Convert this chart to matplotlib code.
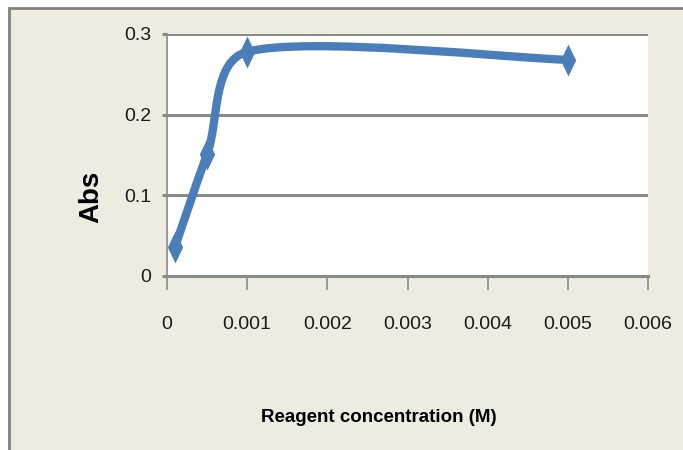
import matplotlib
matplotlib.use("Agg")
import matplotlib.pyplot as plt
import numpy as np
from matplotlib.path import Path
from matplotlib.patches import PathPatch, Rectangle

conc = [0.0001, 0.0005, 0.001, 0.005]
absorb = [0.036, 0.151, 0.278, 0.268]

x_ticks = [0, 0.001, 0.002, 0.003, 0.004, 0.005, 0.006]
x_tick_labels = ["0", "0.001", "0.002", "0.003", "0.004", "0.005", "0.006"]
y_ticks = [0, 0.1, 0.2, 0.3]
y_tick_labels = ["0", "0.1", "0.2", "0.3"]

BLUE = "#4a7ebb"
GRID = "#898989"
BEIGE = "#eeece1"
FONT = "Liberation Sans"


def smooth_path(ax, xs, ys):
    """Bezier curve through the points, built in pixel space like a spreadsheet
    'smoothed line': Catmull-Rom tangents, each handle capped at a third of its chord."""
    to_px = ax.transData
    p = to_px.transform(np.column_stack([xs, ys]))
    ext = np.vstack([p[0], p, p[-1]])
    verts = [p[0]]
    codes = [Path.MOVETO]
    for i in range(len(p) - 1):
        p0, p1, p2, p3 = ext[i], ext[i + 1], ext[i + 2], ext[i + 3]
        cap = np.linalg.norm(p2 - p1) / 3
        h1 = (p2 - p0) / 6
        h2 = (p3 - p1) / 6
        h1 *= min(1.0, cap / max(np.linalg.norm(h1), 1e-9))
        h2 *= min(1.0, cap / max(np.linalg.norm(h2), 1e-9))
        verts += [p1 + h1, p2 - h2, p2]
        codes += [Path.CURVE4] * 3
    verts = to_px.inverted().transform(np.array(verts))
    return Path(verts, codes)


fig = plt.figure(figsize=(6.83, 4.5), dpi=100, facecolor="white")
# chart frame: white margin top/left, grey edge, beige fill
fig.patches.append(Rectangle((8.5 / 683, -0.05), 1.1, (450 - 7.5) / 450 + 0.05,
                             transform=fig.transFigure, facecolor=BEIGE,
                             edgecolor="#808080", linewidth=2.0, zorder=-1))

ax = fig.add_axes([167 / 683, 174 / 450, 481 / 683, 242 / 450])
ax.set_facecolor("white")
ax.set_xlim(0, 0.006)
ax.set_ylim(0, 0.3)

ax.add_patch(PathPatch(smooth_path(ax, conc, absorb), facecolor="none",
                       edgecolor=BLUE, linewidth=6, capstyle="round",
                       joinstyle="round", zorder=3))
diamond = [(0, 1), (0.48, 0), (0, -1), (-0.48, 0), (0, 1)]
ax.plot(conc, absorb, linestyle="none", marker=diamond, markersize=23,
        color=BLUE, markeredgewidth=0, zorder=4)

ax.set_xticks(x_ticks)
ax.set_xticklabels(x_tick_labels, fontname=FONT, fontsize=14, color="#1a1a1a")
ax.set_yticks(y_ticks)
ax.set_yticklabels(y_tick_labels, fontname=FONT, fontsize=14, color="#1a1a1a")
ax.tick_params(axis="x", length=10, width=1.2, color=GRID, pad=19)
ax.tick_params(axis="y", length=3.5, width=2.2, color=GRID, pad=8)

ax.grid(True, axis="y", color=GRID, linewidth=2.2, zorder=1)
ax.set_axisbelow(True)
for side in ("top", "right"):
    ax.spines[side].set_visible(False)
ax.spines["bottom"].set_color(GRID)
ax.spines["bottom"].set_linewidth(2.2)
ax.spines["left"].set_color(GRID)
ax.spines["left"].set_linewidth(1.2)

ax.set_xlabel("Reagent concentration (M)", fontname=FONT, fontsize=13.5,
              fontweight="bold", va="center")
ax.xaxis.set_label_coords(0.44, -0.583)
ax.set_ylabel("Abs", fontname=FONT, fontsize=20, fontweight="bold", va="center")
ax.yaxis.set_label_coords(-0.158, 0.326)

fig.savefig("out.png", dpi=100, facecolor=fig.get_facecolor())
